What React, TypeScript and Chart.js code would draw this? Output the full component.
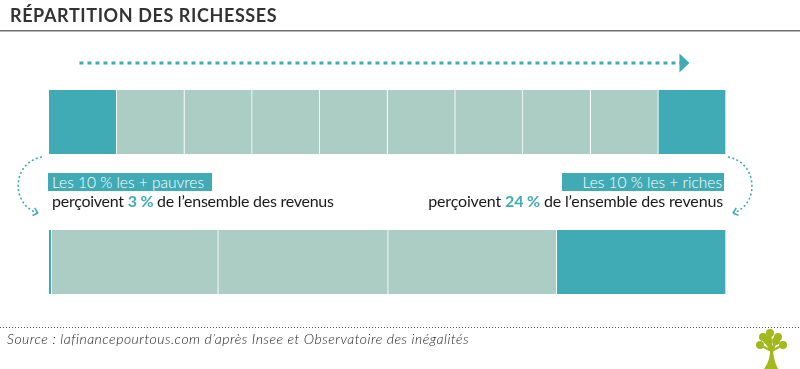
import React, { useEffect, useRef } from 'react';
import { Chart, registerables } from 'chart.js';

Chart.register(...registerables);

// ---- data ----
const categories = ['Population (déciles)', 'Revenus'];
const populationShares = [10, 10, 10, 10, 10, 10, 10, 10, 10, 10];
const incomeShares = [0.4, 24.6, 25.1, 24.9, 25.0];
const titleText = 'RÉPARTITION DES RICHESSES';
const poorLabel = 'Les 10 % les + pauvres';
const richLabel = 'Les 10 % les + riches';
const poorShareText = '3 %';
const richShareText = '24 %';
const sourceText = 'Source : lafinancepourtous.com d’après Insee et Observatoire des inégalités';

// ---- styles ----
const DARK = '#41abb5';
const LIGHT = '#abcdc4';
const FONT = 'Lato, "Open Sans", sans-serif';

const segColor = (i: number, n: number) => (i === 0 || i === n - 1 ? DARK : LIGHT);

const decoPlugin = {
  id: 'deco',
  afterDraw(chart: any) {
    const ctx = chart.ctx as CanvasRenderingContext2D;
    const xs = chart.scales.x;
    const topBar = chart.getDatasetMeta(0).data[0];
    const botBar = chart.getDatasetMeta(0).data[1];
    const topTop = topBar.y - topBar.height / 2;
    const tb = topBar.y + topBar.height / 2;
    const L = xs.getPixelForValue(0);
    const R = xs.getPixelForValue(100);
    ctx.save();

    // title underline
    ctx.strokeStyle = '#6e6e6e';
    ctx.lineWidth = 1.5;
    ctx.beginPath();
    ctx.moveTo(0, 30.75);
    ctx.lineTo(chart.width, 30.75);
    ctx.stroke();

    // top dotted arrow
    const ay = topTop - 27;
    const ax0 = xs.getPixelForValue(4.5);
    const tip = xs.getPixelForValue(94.6);
    ctx.strokeStyle = DARK;
    ctx.fillStyle = DARK;
    ctx.lineWidth = 3;
    ctx.setLineDash([4, 4]);
    ctx.beginPath();
    ctx.moveTo(ax0, ay);
    ctx.lineTo(tip - 9, ay);
    ctx.stroke();
    ctx.setLineDash([]);
    ctx.beginPath();
    ctx.moveTo(tip - 10, ay - 9.5);
    ctx.lineTo(tip, ay);
    ctx.lineTo(tip - 10, ay + 9.5);
    ctx.closePath();
    ctx.fill();

    // curved arrows
    const curve = (p: number[][]) => {
      ctx.lineWidth = 1.6;
      ctx.setLineDash([2, 2.4]);
      ctx.beginPath();
      ctx.moveTo(p[0][0], p[0][1]);
      ctx.bezierCurveTo(p[1][0], p[1][1], p[2][0], p[2][1], p[3][0], p[3][1]);
      ctx.stroke();
      ctx.setLineDash([]);
      const dx = p[3][0] - p[2][0];
      const dy = p[3][1] - p[2][1];
      const len = Math.hypot(dx, dy);
      const ux = dx / len, uy = dy / len;
      ctx.lineWidth = 1.5;
      ctx.beginPath();
      for (const a of [0.7, -0.7]) {
        const c = Math.cos(a), s = Math.sin(a);
        const bx = -(ux * c - uy * s), by = -(ux * s + uy * c);
        ctx.moveTo(p[3][0], p[3][1]);
        ctx.lineTo(p[3][0] + bx * 6, p[3][1] + by * 6);
      }
      ctx.stroke();
    };
    const bt = botBar.y - botBar.height / 2;
    curve([[L - 7, tb + 3], [L - 37, tb + 8], [L - 39, bt - 25], [L - 11, bt - 17]]);
    curve([[R + 2, tb + 3], [R + 32, tb + 8], [R + 34, bt - 25], [R + 7, bt - 17]]);

    // footer dotted line
    ctx.strokeStyle = '#555';
    ctx.lineWidth = 1;
    ctx.setLineDash([1, 2]);
    ctx.beginPath();
    ctx.moveTo(0, 327.5);
    ctx.lineTo(chart.width, 327.5);
    ctx.stroke();
    ctx.setLineDash([]);

    // logo tree
    const g = '#a2b81c';
    ctx.fillStyle = g;
    ctx.strokeStyle = g;
    ctx.beginPath();
    ctx.moveTo(764, 369);
    ctx.quadraticCurveTo(771, 360, 770, 346);
    ctx.lineTo(773, 346);
    ctx.quadraticCurveTo(773, 360, 778, 369);
    ctx.closePath();
    ctx.fill();
    ctx.lineWidth = 2.5;
    const branches = [[760, 345], [763, 337], [770, 333], [778, 337], [783, 345], [767, 340], [776, 341]];
    for (const [bx, by] of branches) {
      ctx.beginPath();
      ctx.moveTo(771.5, 351);
      ctx.lineTo(bx, by);
      ctx.stroke();
      ctx.beginPath();
      ctx.arc(bx, by, 4, 0, Math.PI * 2);
      ctx.fill();
    }
    ctx.restore();
  },
};

export default function App() {
  const ref = useRef<HTMLCanvasElement | null>(null);

  useEffect(() => {
    if (!ref.current) return;
    const n = Math.max(populationShares.length, incomeShares.length);
    const datasets = [];
    for (let i = 0; i < n; i++) {
      datasets.push({
        label: `Segment ${i + 1}`,
        data: [populationShares[i] ?? 0, incomeShares[i] ?? 0],
        backgroundColor: [
          segColor(i, populationShares.length),
          segColor(i, incomeShares.length),
        ],
        borderColor: '#ffffff',
        borderWidth: { left: 0, right: 1, top: 0, bottom: 0 },
        borderSkipped: false,
        barThickness: 64,
      });
    }
    const chart = new Chart(ref.current, {
      type: 'bar',
      data: { labels: categories, datasets: datasets as any },
      options: {
        indexAxis: 'y',
        animation: false,
        responsive: false,
        maintainAspectRatio: false,
        layout: { padding: { left: 49, right: 74, top: 52, bottom: 37 } },
        scales: {
          x: { stacked: true, min: 0, max: 100, display: false },
          y: { stacked: true, display: false },
        },
        plugins: { legend: { display: false }, tooltip: { enabled: false }, title: { display: false } },
      },
      plugins: [decoPlugin],
    });
    return () => chart.destroy();
  }, []);

  const abs = (s: React.CSSProperties): React.CSSProperties => ({ position: 'absolute', whiteSpace: 'nowrap', fontFamily: FONT, ...s });

  return (
    <div style={{ position: 'absolute', left: 0, top: 0, width: 800, height: 369, background: '#fff', overflow: 'hidden' }}>
      <canvas ref={ref} width={800} height={369} style={{ position: 'absolute', left: 0, top: 0, width: 800, height: 369 }} />
      <div style={abs({ left: 10, top: 4.5, fontSize: 18, lineHeight: '20px', fontWeight: 700, letterSpacing: 0.6, color: '#333' })}>{titleText}</div>

      <div style={abs({ left: 48, top: 172.5, width: 164, height: 18, background: DARK, color: '#fff', fontSize: 15.5, lineHeight: '18px', fontWeight: 300, paddingLeft: 4, boxSizing: 'border-box' })}>{poorLabel}</div>
      <div style={abs({ left: 52, top: 190.5, fontSize: 16, lineHeight: '20px', letterSpacing: -0.25, color: '#1a1a1a' })}>
        perçoivent <b style={{ color: DARK }}>{poorShareText}</b> de l’ensemble des revenus
      </div>

      <div style={abs({ left: 562, top: 172.5, width: 162, height: 18, background: DARK, color: '#fff', fontSize: 15.5, lineHeight: '18px', fontWeight: 300, paddingRight: 2, boxSizing: 'border-box', textAlign: 'right' })}>{richLabel}</div>
      <div style={abs({ right: 800 - 723, top: 190.5, fontSize: 16, lineHeight: '20px', letterSpacing: -0.15, color: '#1a1a1a', textAlign: 'right' })}>
        perçoivent <b style={{ color: DARK }}>{richShareText}</b> de l’ensemble des revenus
      </div>

      <div style={abs({ left: 7, top: 331, fontSize: 14, lineHeight: '16px', fontStyle: 'italic', fontWeight: 300, letterSpacing: 0.5, color: '#222' })}>{sourceText}</div>
    </div>
  );
}
